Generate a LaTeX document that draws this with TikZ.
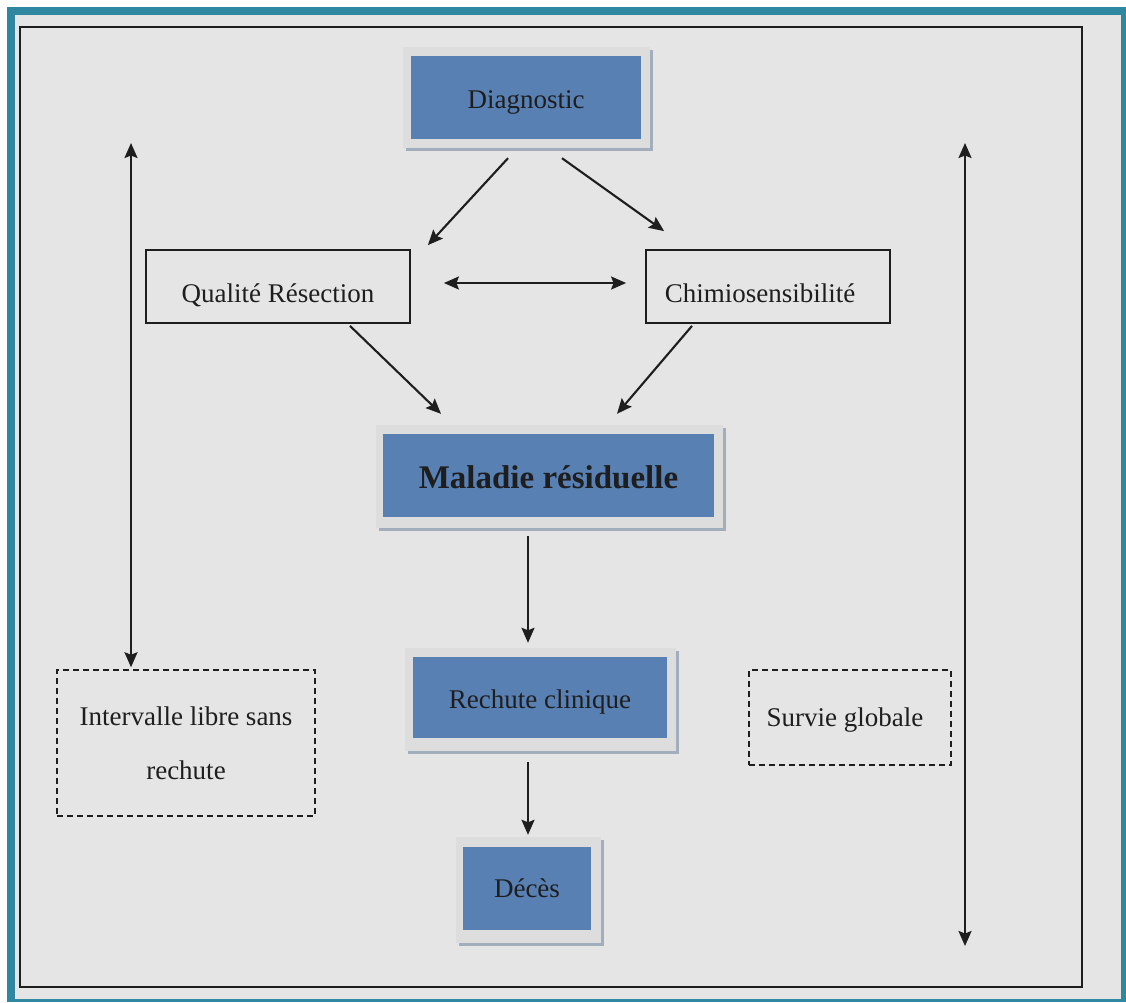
\documentclass[tikz,border=0pt]{standalone}
\usepackage{fontspec}
\setmainfont{Liberation Serif}
\usetikzlibrary{arrows.meta,calc,shadows}
\definecolor{tealc}{HTML}{2F87A0}
\definecolor{bgc}{HTML}{E5E5E5}
\definecolor{framefill}{HTML}{DDDDDD}
\definecolor{shadowc}{HTML}{A3AEBC}
\definecolor{bluebox}{HTML}{5880B3}
\definecolor{ink}{HTML}{1E1E1E}
\begin{document}
\begin{tikzpicture}[x=1pt,y=-1pt,
  framebox/.style={draw=none, fill=framefill, inner sep=0pt,
    drop shadow={shadow xshift=3pt, shadow yshift=-3pt, fill=shadowc, opacity=1}},
  bluenode/.style={fill=bluebox, inner sep=0pt, text=ink, text height=25pt, text depth=4pt, font=\fontsize{27}{32}\selectfont},
  plainbox/.style={draw=ink, line width=1.8pt, inner sep=0pt, text=ink, text height=34pt, text depth=3pt, font=\fontsize{27}{32}\selectfont},
  dashbox/.style={draw=ink, line width=1.5pt, dash pattern=on 6pt off 4pt, inner sep=0pt, text=ink, align=center, font=\fontsize{27}{54}\selectfont},
  tip/.style={},
  arr/.style={draw=ink, line width=2.1pt, -{Stealth[length=15pt,width=13pt,inset=2.5pt]}},
  dbl/.style={draw=ink, line width=2.1pt, {Stealth[length=15pt,width=13pt,inset=2.5pt]}-{Stealth[length=15pt,width=13pt,inset=2.5pt]}}
]
\useasboundingbox (0,0) rectangle (1126,1002);
\fill[white] (0,0) rectangle (1126,1002);
\fill[tealc] (7,7) rectangle (1126,1002);
\fill[bgc] (15,15) rectangle (1121,999);
\draw[ink, line width=2.5pt] (20,27) rectangle (1082,987);

% blue boxes
\node[framebox, minimum width=247pt, minimum height=101pt] (dF) at (526.5,97.5) {};
\node[bluenode, minimum width=230pt, minimum height=83pt] (d) at (526,97.5) {Diagnostic};

\node[framebox, minimum width=347pt, minimum height=103pt] (mF) at (549.5,476.5) {};
\node[bluenode, minimum width=331pt, minimum height=83pt, text height=30pt, text depth=4pt, font=\fontsize{33}{38}\selectfont\bfseries] (m) at (548.5,475.5) {Maladie résiduelle};

\node[framebox, minimum width=271pt, minimum height=103pt] (rF) at (540.5,699.5) {};
\node[bluenode, minimum width=254pt, minimum height=81pt] (r) at (540,697.5) {Rechute clinique};

\node[framebox, minimum width=145pt, minimum height=106pt] (eF) at (528.5,890) {};
\node[bluenode, minimum width=128pt, minimum height=83pt, text height=22pt, text depth=5pt] (e) at (527,888.5) {Décès};

% plain boxes
\node[plainbox, minimum width=264pt, minimum height=73pt] (qr) at (278,286.5) {Qualité Résection};
\node[plainbox, minimum width=244pt, minimum height=73pt] (ch) at (768,286.5) {\hspace*{-16pt}Chimiosensibilité};

% dashed boxes
\node[dashbox, minimum width=258pt, minimum height=146pt] (lb) at (186,743) {Intervalle libre sans\\rechute};
\node[dashbox, minimum width=202pt, minimum height=95pt, text height=22pt, text depth=5pt] (sg) at (850,717.5) {\hspace*{-10pt}Survie globale};

% connectors
\draw[arr] ($(dF.south)+(-18.5,10)$) -- ($(qr.north east)+(17,-4)$);
\draw[arr] ($(dF.south)+(35.5,10)$) -- ($(ch.north west)+(19,-18)$);
\draw[dbl] ($(qr.east)+(33,-3.5)$) -- ($(ch.west)+(-19,-3.5)$);
\draw[arr] ($(qr.south)+(72,2)$) -- ($(mF.north)+(-108.5,-11)$);
\draw[arr] ($(ch.south)+(-76,2)$) -- ($(mF.north)+(67.5,-11)$);
\draw[arr] ($(mF.south)+(-21.5,8)$) -- ($(rF.north)+(-12.5,-5)$);
\draw[arr] ($(rF.south)+(-12.5,11)$) -- ($(eF.north)+(-0.5,-2)$);

\coordinate (lt) at (131,143);
\draw[dbl] (lt) -- ($(lb.north)+(-55,-2)$);
\coordinate (rt) at (965,143);
\coordinate (rb) at (965,946);
\draw[dbl] (rt) -- (rb);
\end{tikzpicture}
\end{document}
